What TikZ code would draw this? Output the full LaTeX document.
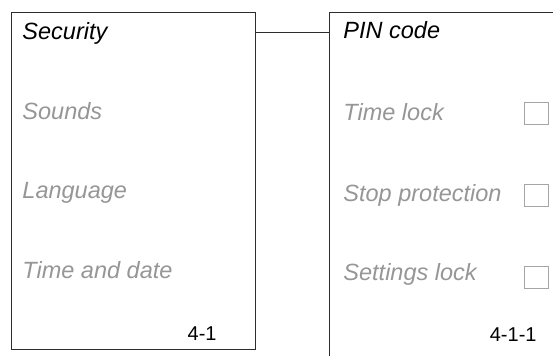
\documentclass[tikz,border=0pt]{standalone}
\usepackage{fontspec}
\setmainfont{Liberation Sans}
\definecolor{itemgray}{RGB}{150,150,150}
\definecolor{boxgray}{RGB}{165,165,165}
\definecolor{framegray}{RGB}{45,45,45}
\begin{document}
\begin{tikzpicture}[x=1pt, y=-1pt, line width=0.9pt, draw=framegray,
  item/.style={anchor=base west, inner sep=0pt, text=itemgray,
    font=\fontsize{23.5}{28}\selectfont\itshape},
  title/.style={item, text=black},
  code/.style={anchor=base east, inner sep=0pt, font=\fontsize{20}{24}\selectfont},
  chk/.style={draw=boxgray, line width=0.8pt, minimum width=24pt, minimum height=22pt, inner sep=0pt}]
  \useasboundingbox (0,0) rectangle (553,356);
  % el menu de la izquierda
  \node[draw=framegray, anchor=north west, minimum width=244pt, minimum height=337pt, inner sep=0pt] (menu) at (11,12) {};
  \node[title] (security) at (22,39) {Security};
  \node[item] (sounds) at (22,119) {Sounds};
  \node[item] (language) at (22,198) {Language};
  \node[item] (timedate) at (22,278) {Time and date};
  \node[code] (code1) at (217,340) {4-1};
  % el submenu, abierto a la derecha y abajo
  \coordinate (sub) at (329,12);
  \coordinate (subin) at (329,32);
  \draw[framegray] (553,12) -- (sub) -- (329,356);
  \draw[framegray] (menu.east |- subin) -- (subin);
  \node[title] (pin) at (343,38) {PIN code};
  \node[item] (timelock) at (343,120) {Time lock};
  \node[item] (stopprot) at (343,201) {Stop protection};
  \node[item] (setlock) at (343,280) {Settings lock};
  \node[chk] (chk1) at (536,113) {};
  \node[chk] (chk2) at (536,195) {};
  \node[chk] (chk3) at (536,277) {};
  \node[code] (code2) at (537,341) {4-1-1};
\end{tikzpicture}
\end{document}
